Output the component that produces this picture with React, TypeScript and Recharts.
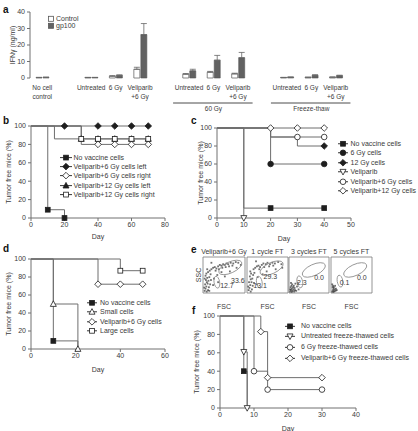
import React from "react";
import {
  Bar,
  BarChart,
  ComposedChart,
  ErrorBar,
  Legend,
  Line,
  ReferenceArea,
  ReferenceDot,
  Scatter,
  ScatterChart,
  XAxis,
  YAxis,
} from "recharts";

const FONT = "'Liberation Sans', Arial, Helvetica, sans-serif";
const TEXT = "#3a3a3a";
const AXIS = "#707070";
const TRACE = "#6e6e6e";
const INK = "#1e1e1e";

// ---------- a: IFN-gamma release ----------
const slotLabels = [
  "No cell\ncontrol", "",
  "Untreated", "6 Gy", "Veliparib\n+6 Gy", "",
  "Untreated", "6 Gy", "Veliparib\n+6 Gy", "",
  "Untreated", "6 Gy", "Veliparib\n+6 Gy",
];
const controlIfn = [0.3, null, 0.3, 1.1, 5.3, null, 2.3, 3.5, 2.5, null, 0.3, 0.4, 0.5];
const controlSem = [0.1, null, 0.1, 0.3, 1.2, null, 0.4, 0.5, 0.4, null, 0.1, 0.1, 0.1];
const gp100Ifn = [0.4, null, 0.3, 1.6, 26.3, null, 4.3, 10.8, 12.3, null, 0.5, 1.6, 1.4];
const gp100Sem = [0.1, null, 0.1, 0.3, 6.7, null, 1.0, 2.9, 3.2, null, 0.1, 0.4, 0.3];
const ifnTicks = [0, 10, 20, 30, 40];
const groupSpans = [
  { label: "60 Gy", mid: 7 },
  { label: "Freeze-thaw", mid: 11 },
];

// ---------- survival curves: [day, % tumor free] ----------
type Tuple = [number, number];
type Shape = "square" | "circle" | "diamond" | "triUp" | "triDown";
interface Curve {
  name: string;
  steps: Tuple[];
  marks: Tuple[];
  shape: Shape;
  filled: boolean;
}

// b
const bNoVaccineSteps: Tuple[] = [[0, 100], [10, 9], [20, 0]];
const bNoVaccineMarks: Tuple[] = [[10, 9], [20, 0]];
const bVel6LeftSteps: Tuple[] = [[0, 100], [70, 100]];
const bVel6LeftMarks: Tuple[] = [[20, 100], [40, 100], [50, 100], [60, 100], [70, 100]];
const bVel6RightSteps: Tuple[] = [[0, 100], [30, 80], [70, 80]];
const bVel6RightMarks: Tuple[] = [[40, 80], [50, 80], [60, 80], [70, 80]];
const bVel12LeftSteps: Tuple[] = [[0, 100], [14, 86], [70, 86]];
const bVel12LeftMarks: Tuple[] = [[30, 86], [40, 86], [50, 86], [60, 86], [70, 86]];
const bVel12RightSteps: Tuple[] = [[0, 100], [30, 86], [70, 86]];
const bVel12RightMarks: Tuple[] = [[30, 86], [40, 86], [50, 86], [60, 86], [70, 86]];

// c
const cNoVaccineSteps: Tuple[] = [[0, 100], [10, 11], [40, 11]];
const cNoVaccineMarks: Tuple[] = [[20, 11], [40, 11]];
const c6GySteps: Tuple[] = [[0, 100], [20, 60], [40, 60]];
const c6GyMarks: Tuple[] = [[20, 60], [40, 60]];
const c12GySteps: Tuple[] = [[0, 100], [20, 90], [30, 80], [40, 80]];
const c12GyMarks: Tuple[] = [[40, 80]];
const cVeliparibSteps: Tuple[] = [[0, 100], [10, 0]];
const cVeliparibMarks: Tuple[] = [[10, 0]];
const cVel6Steps: Tuple[] = [[0, 100], [20, 90], [40, 90]];
const cVel6Marks: Tuple[] = [[30, 90], [40, 90]];
const cVel12Steps: Tuple[] = [[0, 100], [40, 100]];
const cVel12Marks: Tuple[] = [[20, 100], [30, 100], [40, 100]];

// d
const dNoVaccineSteps: Tuple[] = [[0, 100], [10, 9], [21, 0]];
const dNoVaccineMarks: Tuple[] = [[10, 9]];
const dSmallSteps: Tuple[] = [[0, 100], [10, 50], [21, 0]];
const dSmallMarks: Tuple[] = [[10, 50], [21, 0]];
const dVel6Steps: Tuple[] = [[0, 100], [30, 72], [50, 72]];
const dVel6Marks: Tuple[] = [[30, 72], [40, 72], [50, 72]];
const dLargeSteps: Tuple[] = [[0, 100], [40, 87], [50, 87]];
const dLargeMarks: Tuple[] = [[40, 87], [50, 87]];

// f
const fNoVaccineSteps: Tuple[] = [[0, 100], [7, 40], [8, 0]];
const fNoVaccineMarks: Tuple[] = [[7, 40]];
const fUntreatedSteps: Tuple[] = [[0, 100], [7, 61], [8, 0]];
const fUntreatedMarks: Tuple[] = [[7, 61], [8, 0]];
const f6GySteps: Tuple[] = [[0, 100], [10, 40], [14, 20], [30, 20]];
const f6GyMarks: Tuple[] = [[10, 40], [14, 20], [30, 20]];
const fVel6Steps: Tuple[] = [[0, 100], [12, 83], [14, 33], [30, 33]];
const fVel6Marks: Tuple[] = [[12, 83], [14, 33], [30, 33]];

const curvesB: Curve[] = [
  { name: "No vaccine cells", steps: bNoVaccineSteps, marks: bNoVaccineMarks, shape: "square", filled: true },
  { name: "Veliparib+6 Gy cells left", steps: bVel6LeftSteps, marks: bVel6LeftMarks, shape: "diamond", filled: true },
  { name: "Veliparib+6 Gy cells right", steps: bVel6RightSteps, marks: bVel6RightMarks, shape: "diamond", filled: false },
  { name: "Veliparib+12 Gy cells left", steps: bVel12LeftSteps, marks: bVel12LeftMarks, shape: "triUp", filled: true },
  { name: "Veliparib+12 Gy cells right", steps: bVel12RightSteps, marks: bVel12RightMarks, shape: "square", filled: false },
];
const curvesC: Curve[] = [
  { name: "No vaccine cells", steps: cNoVaccineSteps, marks: cNoVaccineMarks, shape: "square", filled: true },
  { name: "6 Gy cells", steps: c6GySteps, marks: c6GyMarks, shape: "circle", filled: true },
  { name: "12 Gy cells", steps: c12GySteps, marks: c12GyMarks, shape: "diamond", filled: true },
  { name: "Veliparib", steps: cVeliparibSteps, marks: cVeliparibMarks, shape: "triDown", filled: false },
  { name: "Veliparib+6 Gy cells", steps: cVel6Steps, marks: cVel6Marks, shape: "circle", filled: false },
  { name: "Veliparib+12 Gy cells", steps: cVel12Steps, marks: cVel12Marks, shape: "diamond", filled: false },
];
const curvesD: Curve[] = [
  { name: "No vaccine cells", steps: dNoVaccineSteps, marks: dNoVaccineMarks, shape: "square", filled: true },
  { name: "Small cells", steps: dSmallSteps, marks: dSmallMarks, shape: "triUp", filled: false },
  { name: "Veliparib+6 Gy cells", steps: dVel6Steps, marks: dVel6Marks, shape: "diamond", filled: false },
  { name: "Large cells", steps: dLargeSteps, marks: dLargeMarks, shape: "square", filled: false },
];
const curvesF: Curve[] = [
  { name: "No vaccine cells", steps: fNoVaccineSteps, marks: fNoVaccineMarks, shape: "square", filled: true },
  { name: "Untreated freeze-thawed cells", steps: fUntreatedSteps, marks: fUntreatedMarks, shape: "triDown", filled: false },
  { name: "6 Gy freeze-thawed cells", steps: f6GySteps, marks: f6GyMarks, shape: "circle", filled: false },
  { name: "Veliparib+6 Gy freeze-thawed cells", steps: fVel6Steps, marks: fVel6Marks, shape: "diamond", filled: false },
];

// ---------- e: flow cytometry, [FSC, SSC] in % of scale ----------
const velEvents: Tuple[] = [
  [4, 6], [6, 12], [8, 18], [5, 24], [9, 30], [7, 36], [10, 42], [6, 48], [12, 8], [14, 16],
  [11, 26], [13, 34], [15, 44], [8, 54], [12, 58], [16, 62], [18, 52], [10, 66], [4, 40], [3, 15],
  [17, 24], [19, 36], [9, 4], [15, 6], [20, 66], [24, 70], [28, 72], [32, 68], [36, 74], [40, 78],
  [44, 76], [48, 80], [52, 78], [56, 82], [60, 80], [66, 84], [72, 82], [78, 86], [84, 84], [30, 62],
  [38, 66], [46, 70], [54, 72], [62, 74], [70, 76], [26, 40], [34, 50], [44, 58], [24, 22], [36, 30],
  [52, 46], [64, 60], [80, 70], [90, 78], [20, 84],
];
const ftOneEvents: Tuple[] = [
  [4, 8], [6, 14], [8, 22], [5, 30], [9, 38], [7, 46], [10, 54], [12, 10], [14, 20], [11, 30],
  [13, 40], [15, 50], [8, 60], [16, 66], [18, 56], [3, 18], [17, 28], [9, 4], [20, 70], [24, 74],
  [28, 76], [32, 72], [36, 78], [40, 82], [46, 80], [50, 84], [56, 80], [62, 84], [68, 82], [76, 86],
  [84, 80], [30, 66], [42, 72], [54, 74], [64, 76], [26, 44], [38, 52], [24, 24], [48, 60], [70, 66],
  [86, 70], [22, 88],
];
const ftThreeEvents: Tuple[] = [
  [3, 4], [5, 8], [7, 12], [4, 16], [6, 20], [9, 6], [11, 10], [8, 24], [13, 4], [10, 16],
  [5, 28], [12, 20], [15, 8], [3, 10], [7, 3], [14, 14], [18, 6], [20, 18], [24, 10], [16, 26], [22, 28],
];
const ftFiveEvents: Tuple[] = [
  [3, 4], [5, 8], [6, 12], [4, 16], [8, 5], [9, 10], [5, 20], [11, 6], [7, 16], [12, 12],
  [3, 24], [6, 3], [14, 8], [10, 20],
];
const flowTitles = ["Veliparib+6 Gy", "1 cycle FT", "3 cycles FT", "5 cycles FT"];
const largeGates: Tuple[] = [[65, 71], [60, 69], [62, 64], [59, 64]];
const smallGates: Tuple[] = [[33, 30], [30, 30], [27, 31], [22, 33]];
const largeCounts = ["33.6", "29.3", "0.0", "0.0"];
const largeCountAt: Tuple[] = [[83, 36], [57, 45], [75, 44], [75, 44]];
const smallCounts = ["12.7", "13.1", "2.3", "0.1"];
const smallCountAt: Tuple[] = [[57, 22], [32, 22], [32, 28], [33, 28]];

const tick = { fontSize: 7, fill: TEXT, fontFamily: FONT };

function Glyph({ cx, cy, shape, filled }: { cx: number; cy: number; shape: Shape; filled: boolean }) {
  const style = { fill: filled ? INK : "#fff", stroke: INK, strokeWidth: 0.8 };
  if (shape === "square") return <rect x={cx - 2.4} y={cy - 2.4} width={4.8} height={4.8} {...style} />;
  if (shape === "circle") return <circle cx={cx} cy={cy} r={2.8} {...style} />;
  if (shape === "diamond")
    return <polygon points={`${cx},${cy - 3.3} ${cx + 3.3},${cy} ${cx},${cy + 3.3} ${cx - 3.3},${cy}`} {...style} />;
  if (shape === "triUp")
    return <polygon points={`${cx},${cy - 3.2} ${cx + 3},${cy + 2.4} ${cx - 3},${cy + 2.4}`} {...style} />;
  return <polygon points={`${cx - 3},${cy - 2.4} ${cx + 3},${cy - 2.4} ${cx},${cy + 3.2}`} {...style} />;
}

function yTitle(text: string, x: number) {
  return {
    content: (p: any) => {
      const vb = p.viewBox;
      const cy = vb.y + vb.height / 2;
      return (
        <text x={x} y={cy} transform={`rotate(-90 ${x} ${cy})`} textAnchor="middle" dominantBaseline="central"
          fontSize={7} fill={TEXT} fontFamily={FONT}>
          {text}
        </text>
      );
    },
  };
}

// ---------- panel a ----------
const A_LEFT = 30;
const A_RIGHT = 348;
const bandA = (A_RIGHT - A_LEFT) / slotLabels.length;

function SlotTick(props: any) {
  const { x, y, payload } = props;
  const i = Number(payload.value);
  const lines = slotLabels[i].split("\n");
  const group = groupSpans.find((g) => g.mid === i);
  return (
    <g fontFamily={FONT} fontSize={6.5} fill={TEXT}>
      {lines.map((ln, k) => (
        <text key={k} x={x} y={y + 7.3 + k * 9} textAnchor="middle">{ln}</text>
      ))}
      {group && (
        <g>
          <line x1={x - 1.65 * bandA} x2={x + 1.6 * bandA} y1={y + 20} y2={y + 20} stroke={INK} strokeWidth={0.8} />
          <text x={x} y={y + 28.3} textAnchor="middle">{group.label}</text>
        </g>
      )}
    </g>
  );
}

function IfnKey() {
  const row = (label: string, fill: string) => (
    <div style={{ display: "flex", alignItems: "center", height: 7.6 }}>
      <svg width={6} height={7.6}>
        <rect x={0.5} y={1.3} width={5} height={5} fill={fill} stroke="#555" strokeWidth={0.8} />
      </svg>
      <span style={{ marginLeft: 2 }}>{label}</span>
    </div>
  );
  return (
    <div style={{ fontFamily: FONT, fontSize: 7, color: TEXT, lineHeight: "7.6px" }}>
      {row("Control", "#fff")}
      {row("gp100", "#626262")}
    </div>
  );
}

function IfnPanel() {
  const rows = slotLabels.map((_, i) => ({
    slot: i,
    control: controlIfn[i],
    gp100: gp100Ifn[i],
    controlErr: controlIfn[i] == null ? null : [0, controlSem[i]],
    gp100Err: gp100Ifn[i] == null ? null : [0, gp100Sem[i]],
  }));
  const edges = slotLabels.map((_, i) => i).concat(slotLabels.length);
  return (
    <div style={{ position: "absolute", left: 0, top: 0 }}>
      <BarChart width={418} height={118} data={rows} margin={{ top: 12, right: 418 - A_RIGHT, bottom: 0, left: 0 }}
        barSize={6} barGap={1}>
        <XAxis xAxisId="edge" type="number" dataKey="slot" domain={[0, slotLabels.length]} ticks={edges}
          allowDataOverflow tick={false} height={0} tickSize={3} stroke={AXIS} />
        <XAxis xAxisId="slot" dataKey="slot" type="category" height={40} axisLine={false} tickLine={false}
          tickSize={3} tickMargin={2} interval={0} tick={<SlotTick />} />
        <YAxis domain={[0, 40]} ticks={ifnTicks} width={A_LEFT} tickSize={3} tickMargin={2} stroke={AXIS}
          tick={tick} label={yTitle("IFNγ (ng/ml)", 12)} />
        <Legend layout="vertical" align="center" verticalAlign="middle"
          wrapperStyle={{ left: 48, top: 14.5, width: "auto" }} content={() => <IfnKey />} />
        <Bar xAxisId="slot" dataKey="control" fill="#fff" stroke="#6a6a6a" strokeWidth={0.8} isAnimationActive={false}>
          <ErrorBar dataKey="controlErr" width={3} stroke="#666" strokeWidth={0.8} />
        </Bar>
        <Bar xAxisId="slot" dataKey="gp100" fill="#626262" stroke="#555" strokeWidth={0.6} isAnimationActive={false}>
          <ErrorBar dataKey="gp100Err" width={3} stroke="#666" strokeWidth={0.8} />
        </Bar>
      </BarChart>
    </div>
  );
}

// ---------- survival panels ----------
interface Box { left: number; top: number; width: number; height: number }
interface PlotRect { x0: number; x1: number; y0: number; y1: number }

function CurveKey({ curves, rowH, sample, gap }: { curves: Curve[]; rowH: number; sample: number; gap: number }) {
  return (
    <div style={{ fontFamily: FONT, fontSize: 7, color: TEXT, lineHeight: `${rowH}px` }}>
      {curves.map((c) => (
        <div key={c.name} style={{ display: "flex", alignItems: "center", height: rowH, whiteSpace: "nowrap" }}>
          <svg width={sample} height={rowH} style={{ overflow: "visible" }}>
            <line x1={0} x2={sample} y1={rowH / 2} y2={rowH / 2} stroke={INK} strokeWidth={0.9} />
            <Glyph cx={sample / 2} cy={rowH / 2} shape={c.shape} filled={c.filled} />
          </svg>
          <span style={{ marginLeft: gap }}>{c.name}</span>
        </div>
      ))}
    </div>
  );
}

function SurvivalPanel(props: {
  box: Box;
  plot: PlotRect;
  xMax: number;
  xTicks: number[];
  curves: Curve[];
  titleX: number;
  keyAt: { x: number; y: number; rowH: number; sample: number; gap: number };
}) {
  const { box, plot, xMax, xTicks, curves, titleX, keyAt } = props;
  const toPts = (t: Tuple[]) => t.map(([day, pct]) => ({ day, pct }));
  return (
    <div style={{ position: "absolute", left: box.left, top: box.top }}>
      <ComposedChart width={box.width} height={box.height}
        margin={{ top: plot.y0 - box.top, right: box.left + box.width - plot.x1, bottom: 0, left: 0 }}>
        <XAxis type="number" dataKey="day" domain={[0, xMax]} ticks={xTicks} allowDataOverflow
          height={box.top + box.height - plot.y1} tickSize={3} tickMargin={1} stroke={AXIS} tick={tick}
          label={{ value: "Day", position: "insideBottom", offset: 2, fontSize: 7, fill: TEXT, fontFamily: FONT }} />
        <YAxis type="number" dataKey="pct" domain={[0, 100]} ticks={[0, 20, 40, 60, 80, 100]}
          width={plot.x0 - box.left} tickSize={3} tickMargin={2} stroke={AXIS} tick={tick}
          label={yTitle("Tumor free mice (%)", titleX - box.left)} />
        <Legend layout="vertical" align="center" verticalAlign="middle"
          wrapperStyle={{ left: keyAt.x - box.left, top: keyAt.y - box.top - keyAt.rowH / 2, width: "auto" }}
          content={() => <CurveKey curves={curves} rowH={keyAt.rowH} sample={keyAt.sample} gap={keyAt.gap} />} />
        {curves.map((c) => (
          <Line key={`l-${c.name}`} data={toPts(c.steps)} dataKey="pct" type="stepAfter" stroke={TRACE}
            strokeWidth={1} dot={false} legendType="none" isAnimationActive={false} />
        ))}
        {curves.map((c) => (
          <Scatter key={`s-${c.name}`} data={toPts(c.marks)} dataKey="pct" legendType="none" isAnimationActive={false}
            shape={(p: any) => <Glyph cx={p.cx} cy={p.cy} shape={c.shape} filled={c.filled} />} />
        ))}
      </ComposedChart>
    </div>
  );
}

// ---------- flow plots ----------
const FLOW_TOP = 246;
const FLOW_H = 64;
const flowBoxes = [
  { left: 192, axisW: 11, width: 53 },
  { left: 247, axisW: 0, width: 41 },
  { left: 289, axisW: 0, width: 40 },
  { left: 331, axisW: 0, width: 41 },
];
const flowEvents = [velEvents, ftOneEvents, ftThreeEvents, ftFiveEvents];

function FlowPlot({ i }: { i: number }) {
  const b = flowBoxes[i];
  const pts = flowEvents[i].map(([fsc, ssc]) => ({ fsc, ssc }));
  const label = { fontSize: 7, fill: TEXT, fontFamily: FONT };
  return (
    <div style={{ position: "absolute", left: b.left, top: FLOW_TOP }}>
      <ScatterChart width={b.width} height={FLOW_H} margin={{ top: 0, right: 0, bottom: 0, left: 0 }}>
        <XAxis xAxisId="title" orientation="top" type="number" domain={[0, 100]} height={11} axisLine={false}
          tickLine={false} tick={false} label={{ value: flowTitles[i], position: "center", ...label }} />
        <XAxis type="number" dataKey="fsc" domain={[0, 100]} height={17} axisLine={false} tickLine={false}
          tick={false} label={{ value: "FSC", position: "insideBottom", offset: 1, ...label }} />
        <YAxis type="number" dataKey="ssc" domain={[0, 100]} hide={b.axisW === 0} width={b.axisW}
          axisLine={false} tickLine={false} tick={false} label={yTitle("SSC", 6)} />
        <ReferenceArea x1={0} x2={100} y1={0} y2={100} fill="none" stroke="#7a7a7a" strokeWidth={0.8} />
        <Scatter data={pts} isAnimationActive={false}
          shape={(p: any) => <rect x={p.cx - 0.9} y={p.cy - 0.9} width={1.8} height={1.8} fill="#1a1a1a" fillOpacity={0.62} />} />
        <ReferenceDot x={largeGates[i][0]} y={largeGates[i][1]}
          shape={(p: any) => (
            <ellipse cx={p.cx} cy={p.cy} rx={12.5} ry={5.5} transform={`rotate(-25 ${p.cx} ${p.cy})`}
              fill="none" stroke="#8a8a8a" strokeWidth={0.8} />
          )} />
        <ReferenceDot x={smallGates[i][0]} y={smallGates[i][1]}
          shape={(p: any) => (
            <ellipse cx={p.cx} cy={p.cy} rx={2.8} ry={6} transform={`rotate(-10 ${p.cx} ${p.cy})`}
              fill="none" stroke="#8a8a8a" strokeWidth={0.8} />
          )} />
        <ReferenceDot x={largeCountAt[i][0]} y={largeCountAt[i][1]} r={0} fill="none" stroke="none"
          label={{ value: largeCounts[i], position: "center", ...label }} />
        <ReferenceDot x={smallCountAt[i][0]} y={smallCountAt[i][1]} r={0} fill="none" stroke="none"
          label={{ value: smallCounts[i], position: "center", ...label }} />
      </ScatterChart>
    </div>
  );
}

function PanelLetter({ ch, x, y }: { ch: string; x: number; y: number }) {
  return (
    <div style={{ position: "absolute", left: x, top: y - 6, fontFamily: FONT, fontWeight: "bold", fontSize: 10,
      lineHeight: "12px", color: "#111" }}>
      {ch}
    </div>
  );
}

export default function App() {
  return (
    <div style={{ position: "absolute", left: 0, top: 0, width: 418, height: 431, background: "#fff", overflow: "hidden" }}>
      <style>{".recharts-surface{overflow:visible}"}</style>
      <IfnPanel />
      <SurvivalPanel box={{ left: 0, top: 110, width: 190, height: 131 }} plot={{ x0: 31, x1: 165, y0: 126, y1: 218 }}
        xMax={80} xTicks={[0, 20, 40, 60, 80]} curves={curvesB} titleX={8}
        keyAt={{ x: 60, y: 157.7, rowH: 9.2, sample: 12, gap: 1.5 }} />
      <SurvivalPanel box={{ left: 190, top: 110, width: 228, height: 133 }} plot={{ x0: 217, x1: 351, y0: 128, y1: 218 }}
        xMax={50} xTicks={[0, 10, 20, 30, 40, 50]} curves={curvesC} titleX={200}
        keyAt={{ x: 338, y: 143.3, rowH: 9.55, sample: 10, gap: 2.5 }} />
      <SurvivalPanel box={{ left: 0, top: 245, width: 190, height: 129 }} plot={{ x0: 31, x1: 165, y0: 259, y1: 349 }}
        xMax={60} xTicks={[0, 20, 40, 60]} curves={curvesD} titleX={8}
        keyAt={{ x: 87, y: 302.3, rowH: 9.6, sample: 10, gap: 3 }} />
      <SurvivalPanel box={{ left: 190, top: 310, width: 228, height: 123 }} plot={{ x0: 220, x1: 356, y0: 316, y1: 408 }}
        xMax={40} xTicks={[0, 10, 20, 30, 40]} curves={curvesF} titleX={196}
        keyAt={{ x: 285, y: 326, rowH: 10.7, sample: 10, gap: 6 }} />
      {flowBoxes.map((_, i) => (
        <FlowPlot key={i} i={i} />
      ))}
      <PanelLetter ch="a" x={3} y={10} />
      <PanelLetter ch="b" x={3} y={121} />
      <PanelLetter ch="c" x={191} y={121} />
      <PanelLetter ch="d" x={3} y={249} />
      <PanelLetter ch="e" x={191} y={250} />
      <PanelLetter ch="f" x={192} y={311} />
    </div>
  );
}
